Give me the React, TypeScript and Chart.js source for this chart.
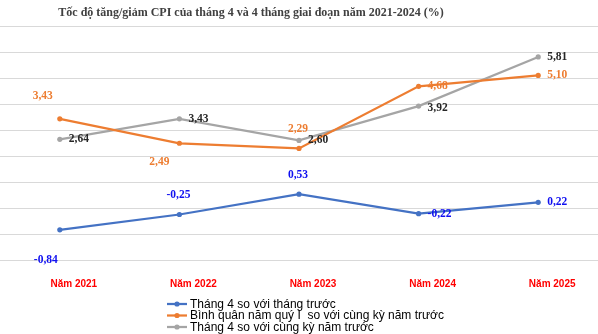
import React, { useEffect, useRef } from "react";
import { Chart, registerables } from "chart.js";

Chart.register(...registerables);

const chartTitle = "Tốc độ tăng/giảm CPI của tháng 4 và 4 tháng giai đoạn năm 2021-2024 (%)";
const categories = ["Năm 2021", "Năm 2022", "Năm 2023", "Năm 2024", "Năm 2025"];
const seriesNames = [
  "Tháng 4 so với tháng trước",
  "Bình quân năm quý I  so với cùng kỳ năm trước",
  "Tháng 4 so với cùng kỳ năm trước",
];
const monthOverMonth = [-0.84, -0.25, 0.53, -0.22, 0.22];
const avgYearOverYear = [3.43, 2.49, 2.29, 4.68, 5.1];
const aprilYearOverYear = [2.64, 3.43, 2.6, 3.92, 5.81];
const yMin = -2;
const yMax = 7;
const yStep = 1;

// label placement per point (style only)
const placeBlue = ["belowLeft", "above", "above", "right", "right"];
const placeOrange = ["aboveLeft", "belowLeft2", "above", "right", "right"];
const placeGray = ["right", "right", "right", "rightLow", "right"];

const lineColors = ["#4472C4", "#ED7D31", "#A5A5A5"];
const labelColors = ["#1010F0", "#ED7D31", "#262626"];

const offsets: Record<string, { dx: number; dy: number; align: CanvasTextAlign }> = {
  right: { dx: 9, dy: 0, align: "left" },
  rightLow: { dx: 9, dy: 2, align: "left" },
  above: { dx: -1, dy: -19, align: "center" },
  aboveLeft: { dx: -17, dy: -23, align: "center" },
  belowLeft: { dx: -14, dy: 30, align: "center" },
  belowLeft2: { dx: -20, dy: 19, align: "center" },
};

const fmt = (v: number) => v.toFixed(2).replace(".", ",");

const dataLabelPlugin = {
  id: "dataLabels",
  afterDatasetsDraw(chart: any) {
    const ctx = chart.ctx;
    const places = [placeBlue, placeOrange, placeGray];
    ctx.save();
    ctx.font = "bold 11.5px 'Liberation Serif', 'Times New Roman', serif";
    ctx.textBaseline = "middle";
    chart.data.datasets.forEach((ds: any, i: number) => {
      const meta = chart.getDatasetMeta(i);
      meta.data.forEach((el: any, j: number) => {
        const o = offsets[places[i][j]];
        ctx.fillStyle = labelColors[i];
        ctx.textAlign = o.align;
        ctx.fillText(fmt(ds.data[j]), el.x + o.dx, el.y + o.dy);
      });
    });
    ctx.restore();
  },
};

const titlePlugin = {
  id: "leftTitle",
  afterDraw(chart: any) {
    const ctx = chart.ctx;
    ctx.save();
    ctx.font = "bold 12px 'Liberation Serif', 'Times New Roman', serif";
    ctx.fillStyle = "#404040";
    ctx.textAlign = "center";
    ctx.textBaseline = "middle";
    ctx.fillText(chartTitle, 251, 13);
    ctx.restore();
  },
};

const legendPlugin = {
  id: "stackedLegend",
  afterDraw(chart: any) {
    const ctx = chart.ctx;
    ctx.save();
    ctx.font = "12px 'Liberation Sans', Arial, sans-serif";
    ctx.textBaseline = "middle";
    ctx.textAlign = "left";
    const x0 = 167;
    const y0 = 304;
    const rowH = 11.5;
    chart.data.datasets.forEach((ds: any, i: number) => {
      const y = y0 + i * rowH;
      ctx.strokeStyle = ds.borderColor;
      ctx.lineWidth = 2.25;
      ctx.beginPath();
      ctx.moveTo(x0, y);
      ctx.lineTo(x0 + 20, y);
      ctx.stroke();
      ctx.fillStyle = ds.borderColor;
      ctx.beginPath();
      ctx.arc(x0 + 10, y, 2.6, 0, Math.PI * 2);
      ctx.fill();
      ctx.fillStyle = "#000000";
      ctx.fillText(ds.label, x0 + 23, y + 0.5);
    });
    ctx.restore();
  },
};

export default function App() {
  const ref = useRef<HTMLCanvasElement | null>(null);
  useEffect(() => {
    if (!ref.current) return;
    const chart = new Chart(ref.current, {
      type: "line",
      data: {
        labels: categories,
        datasets: [monthOverMonth, avgYearOverYear, aprilYearOverYear].map((d, i) => ({
          label: seriesNames[i],
          data: d,
          borderColor: lineColors[i],
          backgroundColor: lineColors[i],
          borderWidth: 2.25,
          pointRadius: 2.6,
          pointBorderWidth: 0,
          pointBackgroundColor: lineColors[i],
          tension: 0,
          fill: false,
        })),
      },
      options: {
        animation: false,
        responsive: true,
        maintainAspectRatio: false,
        layout: { autoPadding: false, padding: { top: 26, left: 0, right: 0, bottom: 26 } },
        plugins: {
          legend: { display: false },
          title: { display: false },
          tooltip: { enabled: false },
        },
        scales: {
          x: {
            offset: true,
            grid: { display: false, drawTicks: false },
            border: { display: false },
            ticks: {
              color: "#FF0000",
              font: { family: "'Liberation Sans', Arial, sans-serif", size: 10, weight: "bold" },
              padding: 18,
              labelOffset: 14,
              maxRotation: 0,
              autoSkip: false,
            },
          },
          y: {
            min: yMin,
            max: yMax,
            ticks: { display: false, stepSize: yStep },
            grid: { color: "#D9D9D9", lineWidth: 1, drawTicks: false },
            border: { display: false },
          },
        },
      },
      plugins: [dataLabelPlugin, titlePlugin, legendPlugin],
    });
    return () => chart.destroy();
  }, []);
  return (
    <div style={{ position: "fixed", left: 0, top: 0, width: 598, height: 334, background: "#fff" }}>
      <canvas ref={ref} />
    </div>
  );
}
